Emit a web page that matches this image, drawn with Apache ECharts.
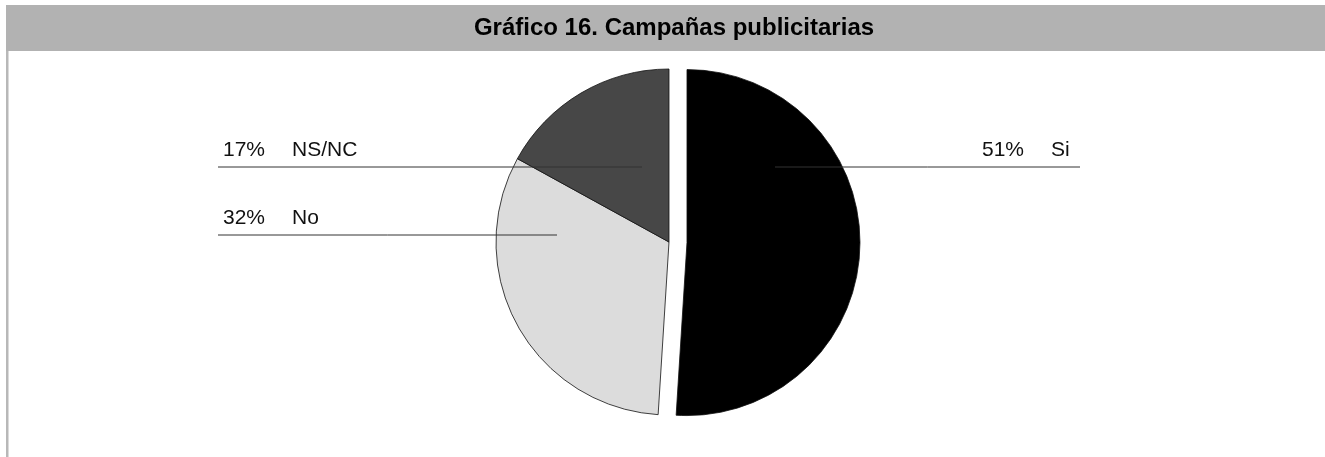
<!DOCTYPE html>
<html>
<head>
<meta charset="utf-8">
<title>Gráfico 16. Campañas publicitarias</title>
<script src="https://cdn.jsdelivr.net/npm/echarts@6/dist/echarts.min.js"></script>
<style>
  html, body { margin: 0; padding: 0; background: #ffffff; }
  #chart { width: 1325px; height: 457px; }
</style>
</head>
<body>
<div id="chart"></div>
<script>
// Survey answers, share of respondents (%)
const categories = ['Si', 'No', 'NS/NC'];
const values = [51, 32, 17];
const sliceColors = ['#000000', '#dcdcdc', '#474747'];
const chartTitle = 'Gráfico 16. Campañas publicitarias';

// Pie geometry
const CENTER = [669, 242];
const RADIUS = 173;
const EXPLODE = 18;

// Label placement: left edge of the text, leader line y, line start (relative to the slice centre) and outer end
const labelPlacement = [
  { textX: 982, lineY: 167, innerDx: 88, outerX: 1080 },
  { textX: 223, lineY: 235, innerDx: -112, outerX: 218 },
  { textX: 223, lineY: 167, innerDx: -27, outerX: 218 }
];

const FONT = '"Liberation Sans", Arial, Helvetica, sans-serif';

const chart = echarts.init(document.getElementById('chart'), null, { renderer: 'canvas' });

// Filled slices; the first one is pulled out
const sliceData = categories.map((name, i) => ({
  name: name,
  value: values[i],
  selected: i === 0,
  itemStyle: { color: sliceColors[i] }
}));

// Same values again for the label layer drawn above the slices
const labelData = categories.map((name, i) => ({ name: name, value: values[i] }));

chart.setOption({
  animation: false,
  backgroundColor: '#ffffff',
  graphic: [
    { type: 'rect', left: 6, top: 5, shape: { width: 1319, height: 46 }, style: { fill: '#b2b2b2' }, z: -10 },
    { type: 'rect', left: 6, top: 51, shape: { width: 2.5, height: 406 }, style: { fill: '#b8b8b8' }, z: -10 }
  ],
  title: {
    text: chartTitle,
    left: 669,
    top: 11,
    textAlign: 'center',
    textStyle: { fontFamily: FONT, fontWeight: 'bold', fontSize: 24, color: '#000000' }
  },
  series: [
    {
      type: 'pie',
      z: 2,
      center: CENTER,
      radius: RADIUS,
      startAngle: 90,
      clockwise: true,
      selectedMode: 'single',
      selectedOffset: EXPLODE,
      silent: true,
      emphasis: { disabled: true },
      itemStyle: { borderColor: '#111111', borderWidth: 0.8 },
      label: { show: false },
      labelLine: { show: false },
      data: sliceData
    },
    {
      type: 'pie',
      z: 5,
      center: CENTER,
      radius: RADIUS,
      startAngle: 90,
      clockwise: true,
      silent: true,
      avoidLabelOverlap: false,
      emphasis: { disabled: true },
      itemStyle: { color: 'rgba(0,0,0,0)', borderWidth: 0 },
      label: {
        show: true,
        position: 'outside',
        formatter: p => '{v|' + p.value + '%}{n|' + p.name + '}',
        rich: {
          v: { fontFamily: FONT, fontSize: 21, color: '#111111', width: 69, align: 'left' },
          n: { fontFamily: FONT, fontSize: 21, color: '#111111', align: 'left' }
        }
      },
      labelLine: {
        show: true,
        smooth: false,
        lineStyle: { color: '#333333', width: 1 }
      },
      labelLayout: function (params) {
        const lp = labelPlacement[params.dataIndex];
        const cx = CENTER[0] + (params.dataIndex === 0 ? EXPLODE : 0);
        const innerX = cx + lp.innerDx;
        const midX = (innerX + lp.outerX) / 2;
        return {
          x: lp.textX,
          y: lp.lineY - 17,
          align: 'left',
          verticalAlign: 'middle',
          labelLinePoints: [[innerX, lp.lineY], [midX, lp.lineY], [lp.outerX, lp.lineY]]
        };
      },
      data: labelData
    }
  ]
});
</script>
</body>
</html>
